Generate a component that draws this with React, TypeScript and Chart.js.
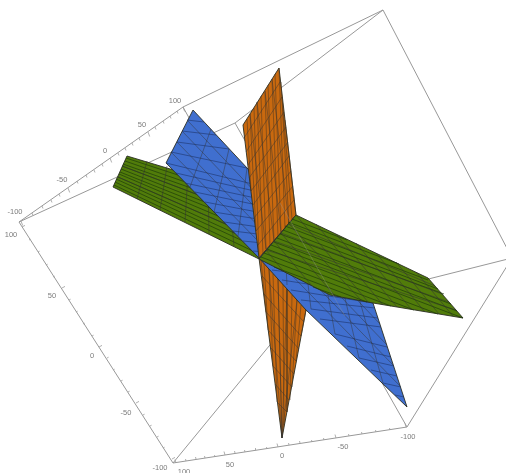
import React, { useEffect, useRef } from "react";
import { Chart, registerables } from "chart.js";

Chart.register(...registerables);

type Seg = number[];
type Pt = number[];

// Cube frame edges in picture coordinates
const frameBack: Seg[] = [
  [19, 222, 183, 107], [183, 107, 383, 10], [383, 10, 512, 258], [512, 258, 407, 427],
  [407, 427, 173, 463], [173, 463, 19, 222], [19, 222, 235, 123], [235, 123, 383, 10],
  [235, 123, 407, 427], [183, 107, 297, 312], [512, 258, 297, 312], [173, 463, 297, 312],
];
const frameSeenThrough: Seg[] = [[280, 203, 345, 316]];

// Tick positions along the three labelled edges
const ticksTop: Pt[] = [
  [21, 221], [32, 213], [42, 206], [51, 200], [59, 194], [68, 188], [77, 181], [86, 175], [94, 170], [102, 164], [110, 158],
  [118, 153], [125, 148], [132, 143], [139, 138], [148, 132], [155, 127], [163, 121], [170, 116], [177, 111], [183, 107],
];
const ticksLeft: Pt[] = [
  [22, 227], [29, 240], [38, 252], [46, 265], [53, 277], [62, 288], [69, 300], [76, 312], [83, 324], [92, 336], [99, 347],
  [107, 358], [113, 370], [121, 381], [128, 392], [136, 403], [143, 415], [150, 426], [157, 437], [163, 448], [172, 459],
];
const ticksBottom: Pt[] = [
  [176, 463], [186, 461], [196, 459], [205, 458], [215, 457], [225, 455], [235, 453], [245, 452], [256, 450], [267, 449], [278, 447],
  [289, 445], [300, 443], [312, 442], [324, 440], [336, 438], [349, 436], [362, 434], [376, 432], [390, 430], [406, 427],
];

// Tick labels
const labelText = ["100", "50", "0", "-50", "-100"];
const labelsTop: Pt[] = [[175, 101], [142, 125], [105, 151], [62, 180], [15, 212]];
const labelsLeft: Pt[] = [[11, 235], [52, 296], [92, 356], [126, 413], [160, 468]];
const labelsBottom: Pt[] = [[184, 472], [230, 465], [282, 456], [343, 447], [408, 437]];

// Surfaces: outlines
const orangeLower: Pt[] = [[259, 258], [282, 438], [306, 310], [305, 285]];
const greenLeft: Pt[] = [[127, 156], [113, 187], [259, 259], [240, 190]];
const blue: Pt[] = [[193, 110], [166, 163], [259, 258], [306, 310], [407, 407], [373, 303]];
const orangeUpper: Pt[] = [[279, 68], [243, 125], [259, 258], [296, 215]];
const greenRight: Pt[] = [[259, 259], [296, 215], [428, 278], [463, 318], [373, 303], [330, 295]];

// Surfaces: wire mesh
const orangeLowerGrid: Seg[] = [
  [269, 269, 282, 438], [278, 279, 282, 438], [287, 289, 282, 438], [297, 300, 282, 438],
  [262, 276, 304, 322], [264, 294, 301, 336], [266, 312, 299, 349], [268, 330, 296, 361], [271, 348, 294, 374], [273, 366, 292, 387], [275, 384, 289, 400], [277, 402, 287, 412],
];
const orangeLowerHatch: Seg[] = [
  [261, 260, 266, 312], [264, 263, 268, 330], [269, 269, 273, 366], [273, 274, 277, 402], [278, 279, 282, 438],
  [283, 284, 284, 425], [287, 289, 287, 412], [292, 295, 290, 400], [297, 300, 292, 387], [301, 305, 296, 361], [306, 310, 301, 336],
];
const greenLeftGrid: Seg[] = [
  [147, 161, 137, 199], [167, 166, 160, 210], [188, 172, 185, 222], [208, 178, 209, 234], [228, 185, 234, 246],
  [122, 166, 246, 213], [118, 177, 253, 236],
];
const greenLeftHatch: Seg[] = [
  [126, 158, 242, 196], [125, 161, 243, 202], [123, 164, 245, 207], [122, 166, 246, 213], [121, 169, 248, 219], [120, 172, 250, 224],
  [119, 174, 251, 230], [118, 177, 253, 236], [116, 179, 254, 242], [115, 182, 256, 247], [114, 185, 257, 253],
];
const blueGrid: Seg[] = [
  [188, 121, 380, 324], [182, 131, 387, 345], [177, 142, 393, 365], [171, 152, 400, 386],
  [211, 129, 190, 187], [229, 149, 214, 212], [247, 168, 238, 236], [265, 187, 262, 261], [283, 207, 287, 285],
  [301, 226, 311, 309], [319, 245, 335, 334], [337, 264, 359, 358], [355, 284, 383, 383],
];
const blueHatch: Seg[] = [
  [187, 120, 204, 122], [182, 131, 216, 135], [177, 142, 229, 149], [171, 152, 247, 168],
  [166, 163, 265, 187], [176, 173, 272, 195], [185, 183, 279, 203], [195, 192, 286, 211], [205, 202, 294, 219], [214, 212, 301, 226],
  [224, 222, 308, 234], [233, 231, 315, 241], [243, 241, 322, 249], [253, 251, 329, 257], [262, 261, 337, 264], [272, 270, 351, 280],
  [282, 280, 364, 293], [291, 290, 373, 303], [301, 300, 375, 308], [311, 309, 378, 318], [320, 319, 381, 327], [335, 334, 387, 347],
  [347, 346, 391, 357], [359, 358, 394, 366], [371, 370, 397, 376], [383, 383, 401, 387], [395, 395, 404, 397],
];
const orangeUpperGrid: Seg[] = [
  [272, 79, 289, 224], [265, 91, 281, 232], [257, 102, 274, 241], [250, 114, 266, 249],
  [246, 152, 282, 97], [249, 178, 286, 127], [253, 205, 289, 156], [256, 231, 293, 186],
  [244, 138, 280, 82], [248, 165, 284, 112], [251, 191, 288, 142], [254, 218, 291, 171], [258, 245, 294, 200],
];
const orangeUpperHatch: Seg[] = [
  [279, 68, 285, 228], [275, 74, 281, 232], [272, 79, 278, 236], [268, 85, 274, 241], [265, 91, 270, 245], [261, 96, 266, 249],
  [257, 102, 263, 254], [254, 108, 259, 258], [250, 114, 256, 231], [247, 119, 251, 191], [281, 82, 289, 224], [282, 97, 292, 219], [285, 120, 296, 215],
];
const greenRightGrid: Seg[] = [
  [266, 250, 456, 310], [274, 241, 449, 302], [281, 233, 442, 294], [289, 224, 435, 286],
  [266, 250, 284, 272], [274, 241, 312, 286], [281, 233, 335, 296], [289, 224, 362, 301], [296, 215, 368, 302], [316, 224, 383, 305],
  [336, 234, 397, 307], [356, 243, 411, 309], [376, 253, 425, 312], [396, 262, 439, 314], [416, 272, 453, 316],
];
const greenRightHatch: Seg[] = [
  [292, 219, 347, 240], [288, 222, 399, 264], [285, 226, 428, 280], [283, 230, 438, 289], [280, 234, 444, 294], [277, 238, 451, 304],
  [274, 242, 457, 311], [271, 245, 463, 318], [267, 249, 438, 314], [264, 253, 414, 310], [261, 257, 391, 306], [274, 267, 367, 302], [313, 287, 341, 297],
];

const toPoints = (pts: Pt[]) => [...pts, pts[0]].map(([x, y]) => ({ x, y }));
const toSegments = (segs: Seg[]) =>
  segs.flatMap(([a, b, c, d]) => [{ x: a, y: b }, { x: c, y: d }, { x: NaN, y: NaN }]);
const tickSegments = (ticks: Pt[], minor: number[], major: number[]) =>
  ticks.flatMap(([x, y], i) => {
    const [dx, dy] = i % 5 === 0 ? major : minor;
    return [{ x, y }, { x: x + dx, y: y + dy }, { x: NaN, y: NaN }];
  });

const lineSet = (data: any[], color: string, width: number) => ({
  data, borderColor: color, borderWidth: width, showLine: true, pointRadius: 0, fill: false, spanGaps: false,
});
const faceSet = (pts: Pt[], fillColor: string) => ({
  data: toPoints(pts), borderColor: "#2a2e22", borderWidth: 0.9, backgroundColor: fillColor,
  showLine: true, pointRadius: 0, fill: "shape",
});

const GRID = "rgba(50,50,50,0.65)";

const labelsPlugin = {
  id: "edgeLabels",
  afterDatasetsDraw(chart: any) {
    const { ctx, scales } = chart;
    ctx.save();
    ctx.font = '7.5px "Liberation Sans", Arial, sans-serif';
    ctx.fillStyle = "#7c7c7c";
    ctx.textAlign = "center";
    ctx.textBaseline = "middle";
    [labelsTop, labelsLeft, labelsBottom].forEach((set) =>
      set.forEach(([x, y], i) =>
        ctx.fillText(labelText[i], scales.x.getPixelForValue(x), scales.y.getPixelForValue(y))
      )
    );
    ctx.restore();
  },
};

export default function App() {
  const ref = useRef<HTMLCanvasElement>(null);
  useEffect(() => {
    if (!ref.current) return;
    const layers: any[] = [
      lineSet(toSegments(frameBack), "#989898", 1),
      lineSet(tickSegments(ticksTop, [1, 2.5], [1.7, 4.5]), "#9c9c9c", 0.8),
      lineSet(tickSegments(ticksLeft, [1.6, -0.8], [3, -1.6]), "#9c9c9c", 0.8),
      lineSet(tickSegments(ticksBottom, [-0.5, -2], [-1, -3.5]), "#9c9c9c", 0.8),
      faceSet(orangeLower, "#c9690f"),
      lineSet(toSegments(orangeLowerHatch), "rgba(80,55,30,0.6)", 0.9),
      lineSet(toSegments(orangeLowerGrid), GRID, 0.7),
      faceSet(greenLeft, "#517c0a"),
      lineSet(toSegments(greenLeftHatch), "rgba(30,60,10,0.7)", 1),
      lineSet(toSegments(greenLeftGrid), GRID, 0.8),
      faceSet(blue, "#406fcf"),
      lineSet(toSegments(blueHatch), "rgba(25,45,95,0.6)", 0.9),
      lineSet(toSegments(blueGrid), GRID, 0.7),
      faceSet(orangeUpper, "#c9690f"),
      lineSet(toSegments(orangeUpperHatch), "rgba(80,55,30,0.6)", 0.9),
      lineSet(toSegments(orangeUpperGrid), GRID, 0.7),
      faceSet(greenRight, "#517c0a"),
      lineSet(toSegments(greenRightHatch), "rgba(30,60,10,0.7)", 1),
      lineSet(toSegments(greenRightGrid), GRID, 0.8),
      lineSet(toSegments(frameSeenThrough), "rgba(150,150,150,0.35)", 1),
    ];
    const datasets = layers.map((d, i) => ({ ...d, order: layers.length - i }));
    const chart = new Chart(ref.current, {
      type: "scatter",
      data: { datasets },
      plugins: [labelsPlugin],
      options: {
        animation: false,
        responsive: false,
        layout: { padding: 0 },
        plugins: { legend: { display: false }, tooltip: { enabled: false } },
        scales: {
          x: { type: "linear", min: 0, max: 506, display: false },
          y: { type: "linear", min: 0, max: 473, reverse: true, display: false },
        },
      },
    } as any);
    return () => chart.destroy();
  }, []);
  return (
    <canvas
      ref={ref}
      width={506}
      height={473}
      style={{ position: "fixed", left: 0, top: 0, width: 506, height: 473, background: "#fff", filter: "blur(0.55px)" }}
    />
  );
}
